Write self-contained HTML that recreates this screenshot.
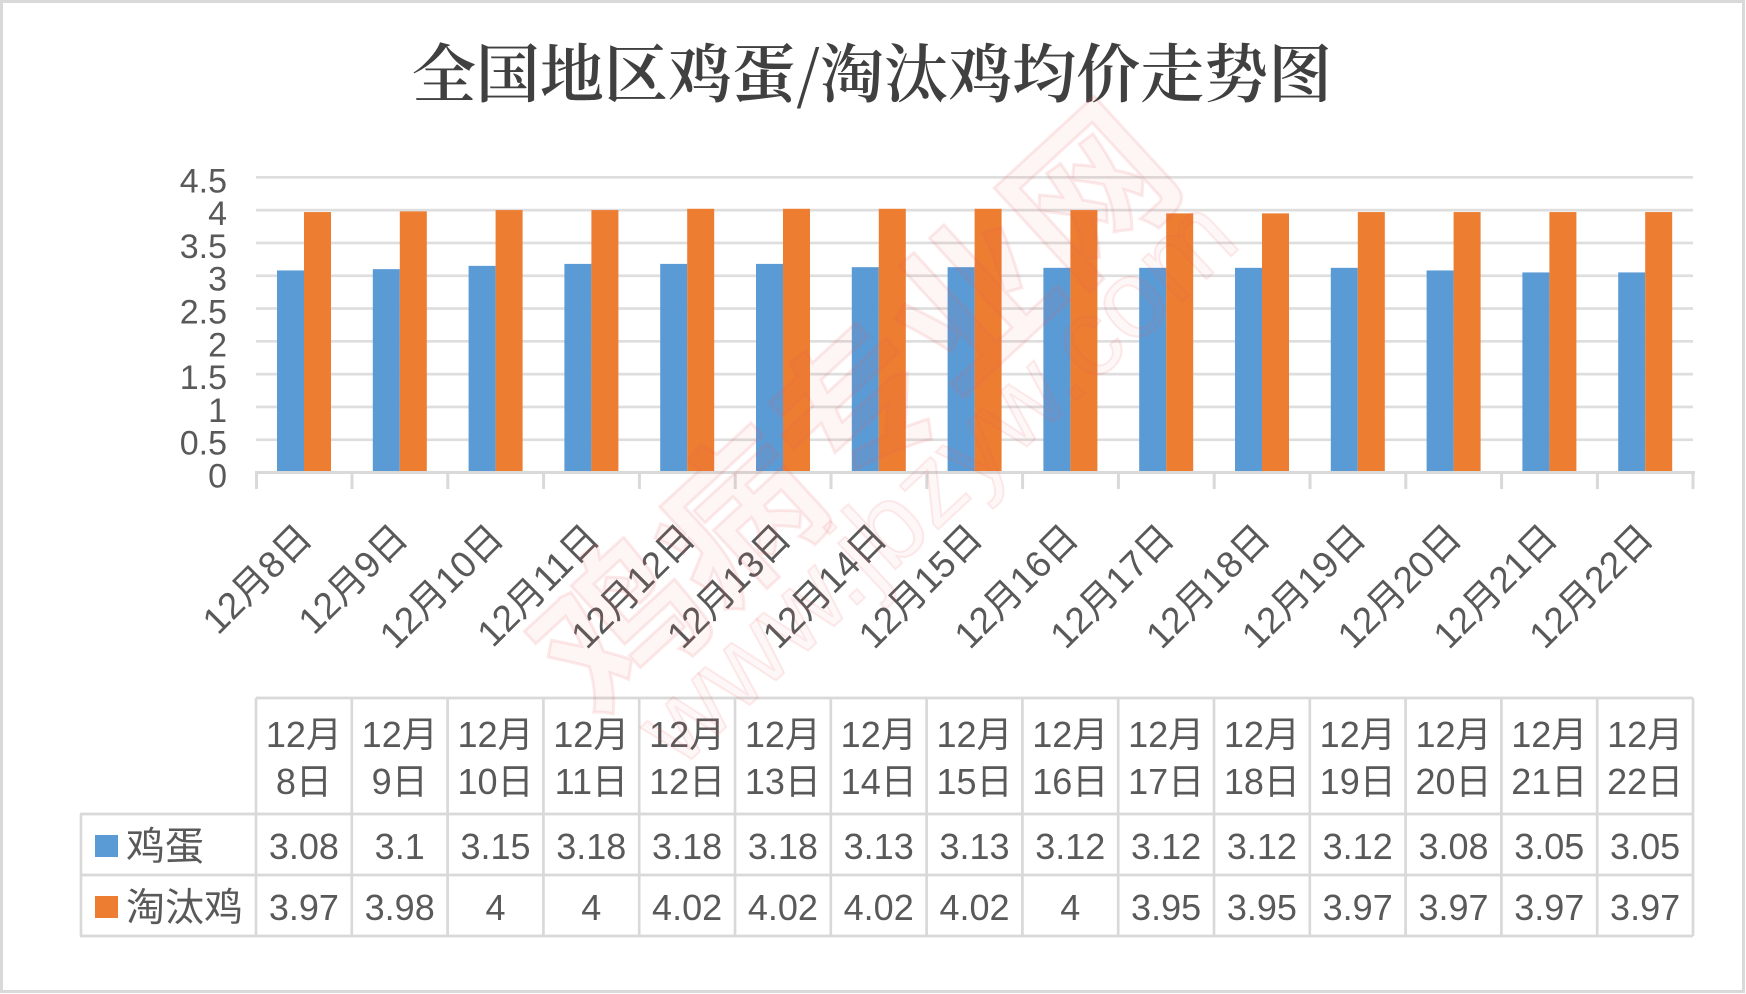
<!DOCTYPE html>
<html>
<head>
<meta charset="utf-8">
<style>
html,body{margin:0;padding:0;background:#fff;}
svg{display:block;}
.t{font-family:"Liberation Sans","Noto Sans CJK SC",sans-serif;fill:#595959;}
</style>
</head>
<body>
<svg width="1746" height="994" viewBox="0 0 1746 994" xmlns="http://www.w3.org/2000/svg">
<rect x="0" y="0" width="1746" height="994" fill="#fff"/>
<rect x="1.5" y="1.5" width="1742" height="990" fill="none" stroke="#d9d9d9" stroke-width="3"/>

<!-- title -->
<text x="872" y="97" text-anchor="middle" font-family="'Noto Serif CJK SC','Liberation Serif',serif" font-weight="600" font-size="64" fill="#404040">全国地区鸡蛋/淘汰鸡均价走势图</text>

<!-- gridlines -->
<g fill="#dedede">
<rect x="256" y="438.4" width="1437" height="2.7"/>
<rect x="256" y="405.6" width="1437" height="2.7"/>
<rect x="256" y="372.8" width="1437" height="2.7"/>
<rect x="256" y="340" width="1437" height="2.7"/>
<rect x="256" y="307.2" width="1437" height="2.7"/>
<rect x="256" y="274.4" width="1437" height="2.7"/>
<rect x="256" y="241.6" width="1437" height="2.7"/>
<rect x="256" y="208.8" width="1437" height="2.7"/>
<rect x="256" y="176" width="1437" height="2.7"/>
</g>

<!-- y labels -->
<g class="t" font-size="34" text-anchor="end">
<text x="227" y="487.5">0</text>
<text x="227" y="454.7">0.5</text>
<text x="227" y="421.9">1</text>
<text x="227" y="389.1">1.5</text>
<text x="227" y="356.3">2</text>
<text x="227" y="323.5">2.5</text>
<text x="227" y="290.7">3</text>
<text x="227" y="257.9">3.5</text>
<text x="227" y="225.1">4</text>
<text x="227" y="192.3">4.5</text>
</g>

<!-- bars -->
<g fill="#5B9BD5">
<rect x="277" y="270.45" width="27" height="202.05"/>
<rect x="372.8" y="269.14" width="27" height="203.36"/>
<rect x="468.6" y="265.86" width="27" height="206.64"/>
<rect x="564.4" y="263.89" width="27" height="208.61"/>
<rect x="660.2" y="263.89" width="27" height="208.61"/>
<rect x="756" y="263.89" width="27" height="208.61"/>
<rect x="851.8" y="267.17" width="27" height="205.33"/>
<rect x="947.6" y="267.17" width="27" height="205.33"/>
<rect x="1043.4" y="267.83" width="27" height="204.67"/>
<rect x="1139.2" y="267.83" width="27" height="204.67"/>
<rect x="1235" y="267.83" width="27" height="204.67"/>
<rect x="1330.8" y="267.83" width="27" height="204.67"/>
<rect x="1426.6" y="270.45" width="27" height="202.05"/>
<rect x="1522.4" y="272.42" width="27" height="200.08"/>
<rect x="1618.2" y="272.42" width="27" height="200.08"/>
</g>
<g fill="#ED7D31">
<rect x="304" y="212.07" width="27" height="260.43"/>
<rect x="399.8" y="211.41" width="27" height="261.09"/>
<rect x="495.6" y="210.1" width="27" height="262.4"/>
<rect x="591.4" y="210.1" width="27" height="262.4"/>
<rect x="687.2" y="208.79" width="27" height="263.71"/>
<rect x="783" y="208.79" width="27" height="263.71"/>
<rect x="878.8" y="208.79" width="27" height="263.71"/>
<rect x="974.6" y="208.79" width="27" height="263.71"/>
<rect x="1070.4" y="210.1" width="27" height="262.4"/>
<rect x="1166.2" y="213.38" width="27" height="259.12"/>
<rect x="1262" y="213.38" width="27" height="259.12"/>
<rect x="1357.8" y="212.07" width="27" height="260.43"/>
<rect x="1453.6" y="212.07" width="27" height="260.43"/>
<rect x="1549.4" y="212.07" width="27" height="260.43"/>
<rect x="1645.2" y="212.07" width="27" height="260.43"/>
</g>

<!-- x axis + ticks -->
<g fill="#d9d9d9">
<rect x="255" y="471" width="1440" height="3"/>
<rect x="255" y="471" width="3" height="18"/>
<rect x="350.5" y="471" width="3" height="18"/>
<rect x="446.3" y="471" width="3" height="18"/>
<rect x="542.1" y="471" width="3" height="18"/>
<rect x="637.9" y="471" width="3" height="18"/>
<rect x="733.7" y="471" width="3" height="18"/>
<rect x="829.5" y="471" width="3" height="18"/>
<rect x="925.3" y="471" width="3" height="18"/>
<rect x="1021.1" y="471" width="3" height="18"/>
<rect x="1116.9" y="471" width="3" height="18"/>
<rect x="1212.7" y="471" width="3" height="18"/>
<rect x="1308.5" y="471" width="3" height="18"/>
<rect x="1404.3" y="471" width="3" height="18"/>
<rect x="1500.1" y="471" width="3" height="18"/>
<rect x="1595.9" y="471" width="3" height="18"/>
<rect x="1691.5" y="471" width="3" height="18"/>
</g>

<!-- rotated x labels -->
<g class="t" font-size="37" text-anchor="end">
<text transform="translate(314,540) rotate(-45)">12月8日</text>
<text transform="translate(409.8,540) rotate(-45)">12月9日</text>
<text transform="translate(505.6,540) rotate(-45)">12月10日</text>
<text transform="translate(601.4,540) rotate(-45)">12月11日</text>
<text transform="translate(697.2,540) rotate(-45)">12月12日</text>
<text transform="translate(793,540) rotate(-45)">12月13日</text>
<text transform="translate(888.8,540) rotate(-45)">12月14日</text>
<text transform="translate(984.6,540) rotate(-45)">12月15日</text>
<text transform="translate(1080.4,540) rotate(-45)">12月16日</text>
<text transform="translate(1176.2,540) rotate(-45)">12月17日</text>
<text transform="translate(1272,540) rotate(-45)">12月18日</text>
<text transform="translate(1367.8,540) rotate(-45)">12月19日</text>
<text transform="translate(1463.6,540) rotate(-45)">12月20日</text>
<text transform="translate(1559.4,540) rotate(-45)">12月21日</text>
<text transform="translate(1655.2,540) rotate(-45)">12月22日</text>
</g>

<!-- data table -->
<g stroke="#d9d9d9" stroke-width="2.7" fill="none">
<line x1="256" y1="698" x2="1693" y2="698"/>
<line x1="80" y1="814" x2="1693" y2="814"/>
<line x1="80" y1="875" x2="1693" y2="875"/>
<line x1="80" y1="936" x2="1693" y2="936"/>
<line x1="81" y1="814" x2="81" y2="936"/>
<line x1="256" y1="698" x2="256" y2="936"/>
<line x1="351.8" y1="698" x2="351.8" y2="936"/>
<line x1="447.6" y1="698" x2="447.6" y2="936"/>
<line x1="543.4" y1="698" x2="543.4" y2="936"/>
<line x1="639.2" y1="698" x2="639.2" y2="936"/>
<line x1="735" y1="698" x2="735" y2="936"/>
<line x1="830.8" y1="698" x2="830.8" y2="936"/>
<line x1="926.6" y1="698" x2="926.6" y2="936"/>
<line x1="1022.4" y1="698" x2="1022.4" y2="936"/>
<line x1="1118.2" y1="698" x2="1118.2" y2="936"/>
<line x1="1214" y1="698" x2="1214" y2="936"/>
<line x1="1309.8" y1="698" x2="1309.8" y2="936"/>
<line x1="1405.6" y1="698" x2="1405.6" y2="936"/>
<line x1="1501.4" y1="698" x2="1501.4" y2="936"/>
<line x1="1597.2" y1="698" x2="1597.2" y2="936"/>
<line x1="1693" y1="698" x2="1693" y2="936"/>
</g>

<rect x="95" y="835" width="23" height="22" fill="#5B9BD5"/>
<rect x="95" y="896" width="23" height="22" fill="#ED7D31"/>
<g class="t" font-size="39">
<text x="126" y="860">鸡蛋</text>
<text x="126" y="921">淘汰鸡</text>
</g>

<g class="t" font-size="36" text-anchor="middle">
<!-- header line 1 -->
<text x="303.9" y="747">12月</text>
<text x="399.7" y="747">12月</text>
<text x="495.5" y="747">12月</text>
<text x="591.3" y="747">12月</text>
<text x="687.1" y="747">12月</text>
<text x="782.9" y="747">12月</text>
<text x="878.7" y="747">12月</text>
<text x="974.5" y="747">12月</text>
<text x="1070.3" y="747">12月</text>
<text x="1166.1" y="747">12月</text>
<text x="1261.9" y="747">12月</text>
<text x="1357.7" y="747">12月</text>
<text x="1453.5" y="747">12月</text>
<text x="1549.3" y="747">12月</text>
<text x="1645.1" y="747">12月</text>
<!-- header line 2 -->
<text x="303.9" y="794">8日</text>
<text x="399.7" y="794">9日</text>
<text x="495.5" y="794">10日</text>
<text x="591.3" y="794">11日</text>
<text x="687.1" y="794">12日</text>
<text x="782.9" y="794">13日</text>
<text x="878.7" y="794">14日</text>
<text x="974.5" y="794">15日</text>
<text x="1070.3" y="794">16日</text>
<text x="1166.1" y="794">17日</text>
<text x="1261.9" y="794">18日</text>
<text x="1357.7" y="794">19日</text>
<text x="1453.5" y="794">20日</text>
<text x="1549.3" y="794">21日</text>
<text x="1645.1" y="794">22日</text>
<!-- egg row -->
<text x="303.9" y="859">3.08</text>
<text x="399.7" y="859">3.1</text>
<text x="495.5" y="859">3.15</text>
<text x="591.3" y="859">3.18</text>
<text x="687.1" y="859">3.18</text>
<text x="782.9" y="859">3.18</text>
<text x="878.7" y="859">3.13</text>
<text x="974.5" y="859">3.13</text>
<text x="1070.3" y="859">3.12</text>
<text x="1166.1" y="859">3.12</text>
<text x="1261.9" y="859">3.12</text>
<text x="1357.7" y="859">3.12</text>
<text x="1453.5" y="859">3.08</text>
<text x="1549.3" y="859">3.05</text>
<text x="1645.1" y="859">3.05</text>
<!-- hen row -->
<text x="303.9" y="920">3.97</text>
<text x="399.7" y="920">3.98</text>
<text x="495.5" y="920">4</text>
<text x="591.3" y="920">4</text>
<text x="687.1" y="920">4.02</text>
<text x="782.9" y="920">4.02</text>
<text x="878.7" y="920">4.02</text>
<text x="974.5" y="920">4.02</text>
<text x="1070.3" y="920">4</text>
<text x="1166.1" y="920">3.95</text>
<text x="1261.9" y="920">3.95</text>
<text x="1357.7" y="920">3.97</text>
<text x="1453.5" y="920">3.97</text>
<text x="1549.3" y="920">3.97</text>
<text x="1645.1" y="920">3.97</text>
</g>

<!-- faint watermark -->
<g font-family="'Noto Sans CJK SC',sans-serif" font-weight="700">
<text transform="translate(600,723) rotate(-42.6)" font-size="160" fill="rgba(235,90,90,0.06)" stroke="rgba(235,90,90,0.13)" stroke-width="3">鸡病专业网</text>
</g>
<g font-family="'Liberation Sans',sans-serif">
<text transform="translate(680,770) rotate(-43)" font-size="110" fill="rgba(235,90,90,0.05)" stroke="rgba(235,90,90,0.12)" stroke-width="2">www.jbzyw.com</text>
</g>
</svg>
</body>
</html>
